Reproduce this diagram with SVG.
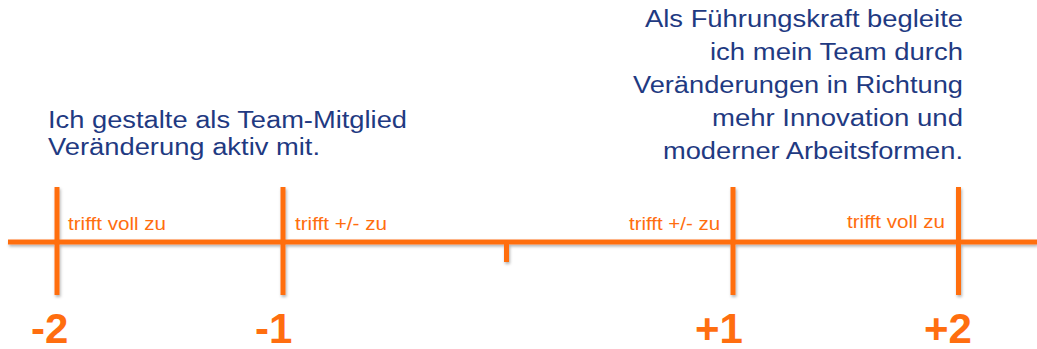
<svg xmlns="http://www.w3.org/2000/svg" width="1037" height="349" viewBox="0 0 1037 349">
<style>
.ln{stroke:#FF6E0F;stroke-width:5;fill:none}
.blue{font-family:"Liberation Sans",Arial,sans-serif;font-size:23px;fill:#1F3A82}
.lab{font-family:"Liberation Sans",Arial,sans-serif;font-size:17.5px;fill:#FF6E0F}
.num{font-family:"Liberation Sans",Arial,sans-serif;font-size:42px;font-weight:bold;fill:#FF6E0F}
</style>
<defs>
<filter id="sh" x="-5%" y="-20%" width="110%" height="140%">
<feDropShadow dx="1" dy="2" stdDeviation="1.5" flood-color="#000" flood-opacity="0.3"/>
</filter>
</defs>
<rect width="1037" height="349" fill="#fff"/>
<g id="connectors" filter="url(#sh)">
<line class="ln" x1="8" y1="242" x2="1037" y2="242"/>
<line class="ln" x1="57" y1="187" x2="57" y2="295"/>
<line class="ln" x1="283" y1="187" x2="283" y2="295"/>
<line class="ln" x1="506.5" y1="242" x2="506.5" y2="262"/>
<line class="ln" x1="733" y1="187" x2="733" y2="295"/>
<line class="ln" x1="958.5" y1="187" x2="958.5" y2="295"/>
</g>
<g id="left-text">
<text class="blue" x="48" y="128" textLength="359" lengthAdjust="spacingAndGlyphs">Ich gestalte als Team-Mitglied</text>
<text class="blue" x="48" y="155" textLength="272" lengthAdjust="spacingAndGlyphs">Veränderung aktiv mit.</text>
</g>
<g id="right-text">
<text class="blue" x="645" y="27" textLength="318" lengthAdjust="spacingAndGlyphs">Als Führungskraft begleite</text>
<text class="blue" x="710" y="60" textLength="253" lengthAdjust="spacingAndGlyphs">ich mein Team durch</text>
<text class="blue" x="633" y="93" textLength="330" lengthAdjust="spacingAndGlyphs">Veränderungen in Richtung</text>
<text class="blue" x="712" y="126" textLength="251" lengthAdjust="spacingAndGlyphs">mehr Innovation und</text>
<text class="blue" x="663" y="159" textLength="300" lengthAdjust="spacingAndGlyphs">moderner Arbeitsformen.</text>
</g>
<g id="labels">
<text class="lab" x="68" y="230" textLength="98" lengthAdjust="spacingAndGlyphs">trifft voll zu</text>
<text class="lab" x="295" y="230" textLength="92" lengthAdjust="spacingAndGlyphs">trifft +/- zu</text>
<text class="lab" x="629" y="230" textLength="91" lengthAdjust="spacingAndGlyphs">trifft +/- zu</text>
<text class="lab" x="847" y="227.5" textLength="98" lengthAdjust="spacingAndGlyphs">trifft voll zu</text>
</g>
<g id="numbers">
<text class="num" x="31" y="343">-2</text>
<text class="num" x="255" y="343">-1</text>
<text class="num" x="695" y="343">+1</text>
<text class="num" x="924" y="343">+2</text>
</g>
</svg>
